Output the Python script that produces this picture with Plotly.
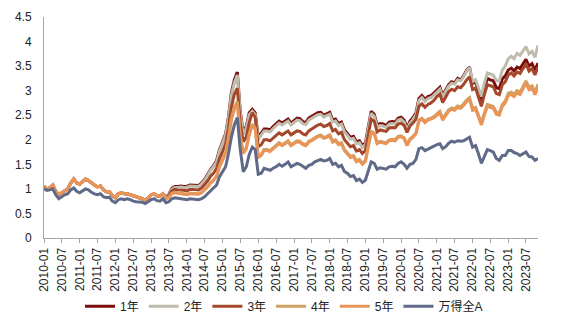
import pandas as pd
import plotly.graph_objects as go

dates = pd.date_range("2010-01-01", "2023-11-01", freq="MS")

wind_a = [
    1.00, 0.97, 0.98, 1.00, 0.88, 0.80, 0.84, 0.88, 0.90, 0.98, 1.02, 0.95,
    0.92, 0.97, 1.00, 0.98, 0.93, 0.90, 0.88, 0.90, 0.84, 0.82, 0.83, 0.75,
    0.72, 0.78, 0.80, 0.78, 0.80, 0.78, 0.75, 0.74, 0.73, 0.73, 0.70, 0.74,
    0.78, 0.80, 0.76, 0.75, 0.80, 0.72, 0.74, 0.80, 0.82, 0.81, 0.80, 0.79,
    0.78, 0.80, 0.79, 0.78, 0.78, 0.80, 0.84, 0.90, 0.96, 1.00, 1.08, 1.25,
    1.35, 1.45, 1.70, 2.05, 2.30, 2.45, 1.80, 1.35, 1.45, 1.70, 1.85, 1.80,
    1.30, 1.32, 1.42, 1.40, 1.38, 1.42, 1.45, 1.50, 1.46, 1.50, 1.55, 1.45,
    1.48, 1.52, 1.50, 1.45, 1.42, 1.48, 1.50, 1.55, 1.58, 1.60, 1.57, 1.58,
    1.62, 1.50, 1.52, 1.45, 1.48, 1.35, 1.32, 1.25, 1.27, 1.17, 1.20, 1.13,
    1.18, 1.40, 1.55, 1.52, 1.40, 1.43, 1.42, 1.40, 1.45, 1.46, 1.45, 1.52,
    1.55, 1.50, 1.42, 1.50, 1.52, 1.60, 1.82, 1.84, 1.78, 1.81, 1.85, 1.88,
    1.90, 1.92, 1.82, 1.86, 1.93, 1.97, 1.95, 1.98, 1.97, 1.98, 2.02, 2.05,
    1.85, 1.88, 1.72, 1.52, 1.66, 1.80, 1.78, 1.75, 1.62, 1.58, 1.68, 1.68,
    1.78, 1.78, 1.74, 1.72, 1.68, 1.72, 1.75, 1.66, 1.65, 1.58, 1.62,
]

y5 = [
    1.05, 1.00, 1.02, 1.08, 0.95, 0.88, 0.92, 0.96, 1.00, 1.12, 1.20, 1.12,
    1.10, 1.15, 1.20, 1.17, 1.12, 1.08, 1.04, 1.06, 0.98, 0.94, 0.94, 0.86,
    0.82, 0.90, 0.92, 0.90, 0.90, 0.88, 0.85, 0.84, 0.82, 0.80, 0.76, 0.82,
    0.88, 0.90, 0.86, 0.85, 0.90, 0.80, 0.82, 0.90, 0.92, 0.91, 0.90, 0.89,
    0.88, 0.90, 0.90, 0.89, 0.89, 0.92, 0.97, 1.04, 1.12, 1.17, 1.25, 1.45,
    1.58, 1.72, 2.00, 2.40, 2.62, 2.74, 2.05, 1.72, 1.82, 2.10, 2.30, 2.22,
    1.64, 1.68, 1.78, 1.78, 1.76, 1.82, 1.86, 1.92, 1.88, 1.92, 1.96, 1.88,
    1.92, 1.96, 1.95, 1.90, 1.88, 1.95, 1.98, 2.02, 2.06, 2.08, 2.03, 2.05,
    2.08, 1.95, 1.98, 1.90, 1.92, 1.78, 1.72, 1.64, 1.66, 1.55, 1.58, 1.50,
    1.56, 1.90, 2.15, 2.12, 1.92, 1.95, 1.94, 1.92, 1.98, 1.99, 1.98, 2.05,
    2.06, 2.02, 1.88, 2.00, 2.05, 2.12, 2.38, 2.42, 2.35, 2.40, 2.42, 2.45,
    2.50, 2.55, 2.40, 2.48, 2.58, 2.62, 2.60, 2.66, 2.64, 2.70, 2.78, 2.82,
    2.60, 2.62, 2.45, 2.30, 2.50, 2.68, 2.66, 2.64, 2.52, 2.50, 2.68, 2.75,
    2.90, 2.92, 2.88, 2.95, 2.92, 3.05, 3.15, 3.02, 3.05, 2.92, 3.08,
]

y4 = [
    1.05, 1.00, 1.02, 1.08, 0.95, 0.88, 0.92, 0.96, 1.00, 1.12, 1.20, 1.12,
    1.10, 1.15, 1.20, 1.17, 1.12, 1.08, 1.04, 1.06, 0.98, 0.94, 0.94, 0.86,
    0.82, 0.90, 0.92, 0.90, 0.90, 0.88, 0.85, 0.84, 0.82, 0.80, 0.76, 0.82,
    0.88, 0.90, 0.86, 0.85, 0.90, 0.81, 0.83, 0.91, 0.93, 0.92, 0.91, 0.90,
    0.89, 0.91, 0.91, 0.90, 0.90, 0.93, 0.98, 1.05, 1.13, 1.18, 1.26, 1.47,
    1.60, 1.74, 2.03, 2.43, 2.66, 2.78, 2.08, 1.74, 1.84, 2.12, 2.32, 2.24,
    1.66, 1.70, 1.80, 1.80, 1.78, 1.84, 1.88, 1.94, 1.90, 1.94, 1.98, 1.90,
    1.94, 1.98, 1.97, 1.92, 1.90, 1.97, 2.00, 2.04, 2.08, 2.10, 2.05, 2.07,
    2.10, 1.97, 2.00, 1.92, 1.94, 1.80, 1.74, 1.66, 1.68, 1.57, 1.60, 1.52,
    1.58, 1.92, 2.17, 2.14, 1.94, 1.97, 1.96, 1.94, 2.00, 2.01, 2.00, 2.07,
    2.08, 2.04, 1.90, 2.02, 2.07, 2.14, 2.40, 2.44, 2.37, 2.42, 2.44, 2.47,
    2.53, 2.58, 2.43, 2.51, 2.61, 2.65, 2.63, 2.69, 2.67, 2.73, 2.81, 2.86,
    2.64, 2.66, 2.49, 2.34, 2.54, 2.72, 2.70, 2.68, 2.56, 2.54, 2.72, 2.79,
    2.95, 2.97, 2.93, 3.00, 2.97, 3.10, 3.20, 3.07, 3.10, 2.97, 3.13,
]

y3 = [
    1.05, 1.00, 1.02, 1.08, 0.95, 0.88, 0.92, 0.96, 1.00, 1.12, 1.20, 1.12,
    1.10, 1.15, 1.20, 1.17, 1.12, 1.08, 1.04, 1.06, 0.98, 0.94, 0.94, 0.86,
    0.82, 0.90, 0.92, 0.90, 0.90, 0.88, 0.85, 0.84, 0.82, 0.80, 0.76, 0.82,
    0.88, 0.90, 0.86, 0.85, 0.90, 0.82, 0.86, 0.96, 0.99, 0.98, 0.98, 0.97,
    0.96, 0.99, 0.99, 0.98, 0.98, 1.02, 1.08, 1.16, 1.26, 1.32, 1.42, 1.62,
    1.76, 1.92, 2.22, 2.66, 2.92, 3.05, 2.32, 1.96, 2.06, 2.35, 2.55, 2.46,
    1.86, 1.90, 2.00, 2.00, 1.98, 2.04, 2.08, 2.14, 2.10, 2.14, 2.18, 2.10,
    2.14, 2.18, 2.17, 2.12, 2.10, 2.18, 2.22, 2.26, 2.30, 2.32, 2.27, 2.29,
    2.33, 2.18, 2.21, 2.12, 2.15, 2.00, 1.94, 1.86, 1.88, 1.77, 1.80, 1.72,
    1.78, 2.15, 2.42, 2.38, 2.16, 2.20, 2.19, 2.17, 2.24, 2.25, 2.24, 2.32,
    2.34, 2.29, 2.15, 2.28, 2.34, 2.42, 2.68, 2.73, 2.66, 2.72, 2.75, 2.80,
    2.88, 2.93, 2.76, 2.86, 2.98, 3.03, 3.00, 3.08, 3.06, 3.13, 3.22, 3.28,
    3.02, 3.05, 2.86, 2.68, 2.92, 3.12, 3.10, 3.08, 2.94, 2.92, 3.12, 3.18,
    3.32, 3.36, 3.30, 3.38, 3.35, 3.45, 3.55, 3.40, 3.45, 3.32, 3.48,
]

y2 = [
    1.05, 1.00, 1.02, 1.08, 0.95, 0.88, 0.92, 0.96, 1.00, 1.12, 1.20, 1.12,
    1.10, 1.15, 1.20, 1.17, 1.12, 1.08, 1.04, 1.06, 0.98, 0.94, 0.94, 0.86,
    0.82, 0.90, 0.92, 0.90, 0.90, 0.88, 0.85, 0.84, 0.82, 0.80, 0.76, 0.82,
    0.88, 0.90, 0.86, 0.85, 0.90, 0.83, 0.88, 0.99, 1.03, 1.03, 1.04, 1.03,
    1.03, 1.06, 1.06, 1.05, 1.05, 1.10, 1.17, 1.27, 1.38, 1.45, 1.55, 1.77,
    1.93, 2.09, 2.41, 2.90, 3.16, 3.32, 2.54, 2.10, 2.24, 2.51, 2.58, 2.51,
    2.01, 2.10, 2.18, 2.18, 2.16, 2.23, 2.28, 2.34, 2.30, 2.34, 2.38, 2.30,
    2.36, 2.40, 2.39, 2.33, 2.31, 2.40, 2.44, 2.48, 2.51, 2.52, 2.46, 2.49,
    2.52, 2.36, 2.38, 2.29, 2.32, 2.16, 2.09, 2.01, 2.03, 1.92, 1.94, 1.84,
    1.90, 2.28, 2.54, 2.48, 2.26, 2.29, 2.28, 2.25, 2.32, 2.33, 2.32, 2.40,
    2.42, 2.36, 2.20, 2.34, 2.41, 2.51, 2.80, 2.86, 2.78, 2.84, 2.86, 2.91,
    2.98, 3.03, 2.87, 2.97, 3.09, 3.15, 3.13, 3.22, 3.20, 3.28, 3.40, 3.47,
    3.18, 3.22, 3.04, 2.88, 3.15, 3.36, 3.34, 3.32, 3.20, 3.20, 3.42, 3.50,
    3.65, 3.70, 3.65, 3.76, 3.72, 3.82, 3.90, 3.75, 3.80, 3.68, 3.92,
]

y1 = [
    1.05, 1.00, 1.02, 1.08, 0.95, 0.88, 0.92, 0.96, 1.00, 1.12, 1.20, 1.12,
    1.10, 1.15, 1.20, 1.17, 1.12, 1.08, 1.04, 1.06, 0.98, 0.94, 0.94, 0.86,
    0.82, 0.90, 0.92, 0.90, 0.90, 0.88, 0.85, 0.84, 0.82, 0.80, 0.76, 0.82,
    0.88, 0.90, 0.86, 0.85, 0.90, 0.83, 0.89, 1.01, 1.05, 1.05, 1.06, 1.05,
    1.05, 1.08, 1.08, 1.07, 1.07, 1.12, 1.19, 1.29, 1.40, 1.47, 1.58, 1.80,
    1.96, 2.12, 2.45, 2.95, 3.22, 3.38, 2.58, 2.14, 2.28, 2.55, 2.62, 2.55,
    2.05, 2.14, 2.22, 2.22, 2.20, 2.27, 2.32, 2.38, 2.34, 2.38, 2.42, 2.34,
    2.40, 2.44, 2.43, 2.37, 2.35, 2.44, 2.48, 2.52, 2.55, 2.56, 2.50, 2.53,
    2.56, 2.40, 2.42, 2.33, 2.36, 2.20, 2.13, 2.05, 2.07, 1.96, 1.98, 1.88,
    1.94, 2.32, 2.58, 2.52, 2.30, 2.33, 2.32, 2.29, 2.36, 2.37, 2.36, 2.44,
    2.46, 2.40, 2.24, 2.38, 2.45, 2.55, 2.84, 2.90, 2.82, 2.88, 2.90, 2.95,
    3.02, 3.07, 2.90, 3.00, 3.12, 3.18, 3.16, 3.25, 3.22, 3.30, 3.42, 3.48,
    3.15, 3.18, 2.98, 2.80, 3.05, 3.25, 3.22, 3.20, 3.06, 3.04, 3.24, 3.30,
    3.42, 3.46, 3.40, 3.48, 3.45, 3.55, 3.64, 3.50, 3.55, 3.42, 3.56,
]

series_names = ["1年", "2年", "3年", "4年", "5年", "万得全A"]
series_values = [y1, y2, y3, y4, y5, wind_a]
series_colors = ["#7A0C0C", "#BFBCAB", "#A4472B", "#CFA262", "#E9955A", "#5F6988"]

tick_vals = pd.date_range("2010-01-01", "2023-07-01", freq="6MS")
tick_text = [d.strftime("%Y-%m") for d in tick_vals]

fig = go.Figure()
for name, vals, col in zip(series_names, series_values, series_colors):
    fig.add_trace(go.Scatter(x=dates, y=vals, name=name, mode="lines",
                             line=dict(color=col, width=3)))

fig.update_layout(
    width=568, height=330,
    margin=dict(l=44, r=30, t=17, b=92, autoexpand=False),
    paper_bgcolor="white", plot_bgcolor="white",
    font=dict(family="Liberation Sans, Arial, sans-serif", size=12, color="#222"),
    showlegend=True,
    legend=dict(orientation="h", xref="container", x=0.5, xanchor="center",
                yref="container", y=0.072, yanchor="middle",
                font=dict(size=12, family="Liberation Sans, Noto Sans CJK SC, sans-serif"),
                itemwidth=30, tracegroupgap=0),
)
fig.update_xaxes(
    range=[dates[0], dates[-1]],
    tickmode="array", tickvals=tick_vals, ticktext=tick_text, tickangle=-90,
    tickfont=dict(size=12),
    showline=True, linecolor="#A6A6A6", linewidth=1,
    ticks="outside", ticklen=4, tickcolor="#A6A6A6",
    showgrid=False, zeroline=False, automargin=False,
)
fig.update_yaxes(
    range=[0, 4.5], dtick=0.5, tickformat="~g",
    tickfont=dict(size=12),
    showline=True, linecolor="#A6A6A6", linewidth=1,
    ticks="", ticklabelstandoff=9,
    showgrid=False, zeroline=False, automargin=False,
)

fig.write_html("out.html")
